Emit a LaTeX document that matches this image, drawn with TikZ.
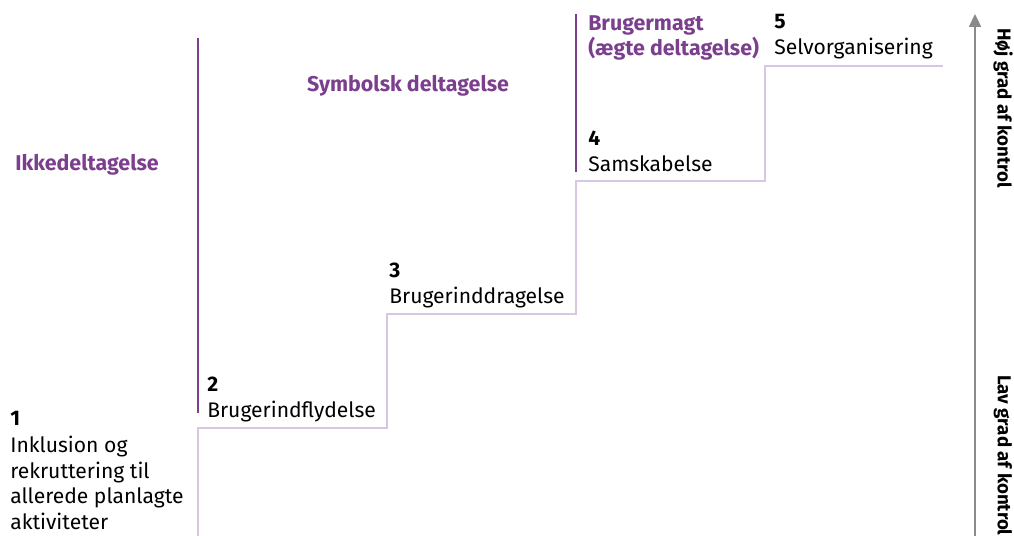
\documentclass[tikz,border=0pt]{standalone}
\usepackage{fontspec}
\setmainfont{Fira Sans}
\usetikzlibrary{arrows.meta,positioning}
\definecolor{darkpurple}{HTML}{7B3F8E}
\definecolor{lightpurple}{HTML}{D9C6E2}
\definecolor{axisgray}{HTML}{8A8A8A}

\begin{document}
\begin{tikzpicture}[
  x=0.025cm, y=-0.025cm,
  steplabel/.style={anchor=north west, inner sep=0pt, align=left, font=\fontsize{15}{18.2}\selectfont},
  grouplabel/.style={inner sep=0pt, align=left, text=darkpurple, font=\fontsize{15.2}{18}\selectfont\bfseries},
  sidelabel/.style={rotate=-90, anchor=west, inner sep=0pt, font=\fontsize{13.3}{15}\selectfont\bfseries},
  stairs/.style={lightpurple, line width=1.4pt},
  divider/.style={darkpurple, line width=1.2pt},
  axis/.style={axisgray, line width=1.1pt, -{Triangle[length=3.2mm, width=3mm]}}
]
\clip (0,0) rectangle (1014,536);

% the ladder
\draw[stairs] (198,536) -- (198,428) -- (387,428) -- (387,314) -- (576,314)
  -- (576,181) -- (765,181) -- (765,66) -- (943,66);

% group dividers
\draw[divider] (198,38) -- (198,413);
\draw[divider] (576,14) -- (576,172);

% steps
\node[steplabel] (s1) at (10,411) {\textbf{1}\\[1pt]Inklusion og\\rekruttering til\\allerede planlagte\\aktiviteter};
\node[steplabel] (s2) at (207,377) {\textbf{2}\\Brugerindflydelse};
\node[steplabel] (s3) at (389,263) {\textbf{3}\\Brugerinddragelse};
\node[steplabel] (s4) at (588,131) {\textbf{4}\\Samskabelse};
\node[steplabel] (s5) at (774,14) {\textbf{5}\\Selvorganisering};

% groups
\node[grouplabel] (nonpart) at (87,165) {Ikkedeltagelse};
\node[grouplabel] (symbolic) at (408,86) {Symbolsk deltagelse};
\node[grouplabel, anchor=north west] (power) at (588,15) {Brugermagt\\(ægte deltagelse)};

% control axis
\coordinate (low) at (975,536);
\coordinate (high) at (975,14);
\draw[axis] (low) -- (high);
\node[sidelabel] (highctrl) at (1003,28) {Høj grad af kontrol};
\node[sidelabel] (lowctrl) at (1003,375) {Lav grad af kontrol};
\end{tikzpicture}
\end{document}
